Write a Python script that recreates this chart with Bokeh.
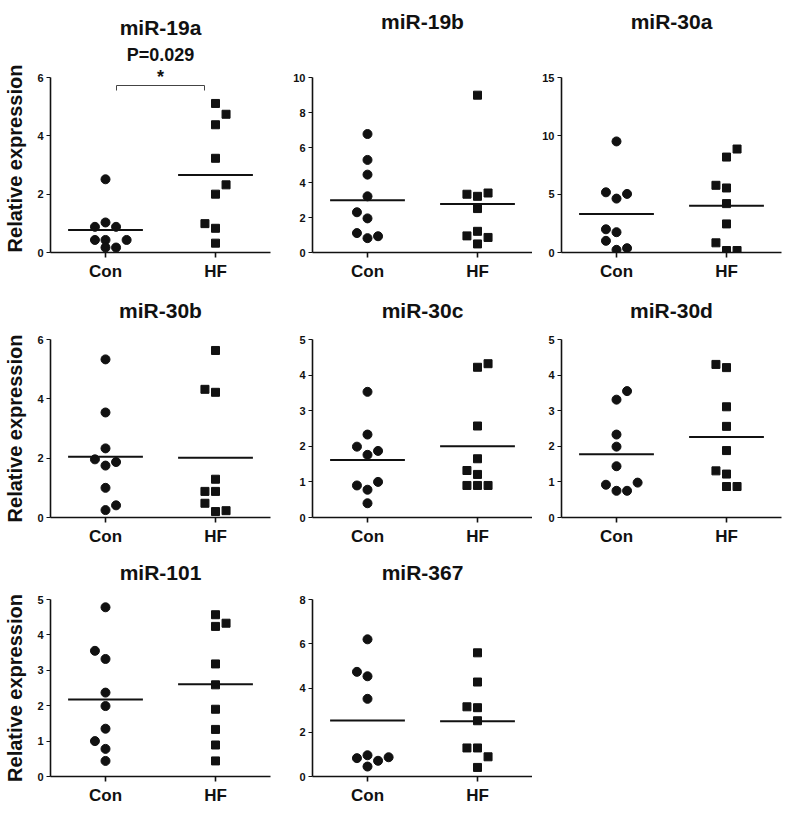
import numpy as np
from bokeh.plotting import figure
from bokeh.layouts import gridplot
from bokeh.models import Range1d, FixedTicker, Title
from bokeh.core.properties import value
from bokeh.embed import file_html
from bokeh.resources import INLINE

# ---------------- data ----------------
groups = ["Con", "HF"]
titles = ["miR-19a", "miR-19b", "miR-30a", "miR-30b", "miR-30c", "miR-30d", "miR-101", "miR-367"]

con_19a = [2.51, 1.03, 0.88, 0.88, 0.43, 0.43, 0.43, 0.17, 0.17]
hf_19a = [5.11, 4.74, 4.38, 3.23, 2.32, 2.00, 0.99, 0.83, 0.32]
con_19b = [6.77, 5.29, 4.45, 3.21, 2.30, 1.95, 1.11, 0.82, 0.93]
hf_19b = [8.99, 3.33, 3.21, 3.40, 2.51, 1.21, 0.95, 0.86, 0.49]
con_30a = [9.52, 5.16, 4.62, 5.02, 1.99, 1.74, 1.00, 0.23, 0.37]
hf_30a = [8.87, 8.18, 5.76, 5.53, 4.19, 2.45, 0.83, 0.17, 0.17]
con_30b = [5.33, 3.54, 2.33, 1.96, 1.75, 1.87, 1.00, 0.25, 0.41]
hf_30b = [5.63, 4.32, 4.22, 1.29, 0.88, 0.88, 0.48, 0.20, 0.23]
con_30c = [3.53, 2.33, 1.99, 1.76, 1.87, 0.90, 1.00, 0.78, 0.40]
hf_30c = [4.32, 4.22, 2.57, 1.65, 1.32, 1.21, 0.90, 0.90, 0.90]
con_30d = [3.55, 3.31, 2.33, 1.99, 1.44, 0.92, 0.75, 0.75, 0.98]
hf_30d = [4.30, 4.21, 3.11, 2.56, 1.88, 1.31, 1.22, 0.87, 0.87]
con_101 = [4.78, 3.55, 3.32, 2.37, 1.99, 1.35, 1.00, 0.78, 0.44]
hf_101 = [4.57, 4.24, 4.33, 3.18, 2.59, 1.90, 1.33, 0.89, 0.44]
con_367 = [6.20, 4.73, 4.53, 3.51, 0.83, 0.96, 0.87, 0.71, 0.45]
hf_367 = [5.59, 4.27, 3.15, 3.11, 2.52, 1.29, 1.29, 0.89, 0.41]

# horizontal spread slot of each dot (scatter-dot-plot layout, in dot widths)
con_19a_slot = [0, 0, -1, 1, -1, 0, 2, 0, 1]
hf_19a_slot = [0, 1, 0, 0, 1, 0, -1, 0, 0]
con_19b_slot = [0, 0, 0, 0, -1, 0, -1, 0, 1]
hf_19b_slot = [0, -1, 0, 1, 0, 0, -1, 1, 0]
con_30a_slot = [0, -1, 0, 1, -1, 0, -1, 0, 1]
hf_30a_slot = [1, 0, -1, 0, 0, 0, -1, 0, 1]
con_30b_slot = [0, 0, 0, -1, 0, 1, 0, 0, 1]
hf_30b_slot = [0, -1, 0, 0, -1, 0, -1, 0, 1]
con_30c_slot = [0, 0, -1, 0, 1, -1, 1, 0, 0]
hf_30c_slot = [1, 0, 0, 0, -1, 0, -1, 0, 1]
con_30d_slot = [1, 0, 0, 0, 0, -1, 0, 1, 2]
hf_30d_slot = [-1, 0, 0, 0, 0, -1, 0, 0, 1]
con_101_slot = [0, -1, 0, 0, 0, 0, -1, 0, 0]
hf_101_slot = [0, 0, 1, 0, 0, 0, 0, 0, 0]
con_367_slot = [0, -1, 0, 0, -1, 0, 2, 1, 0]
hf_367_slot = [0, 0, -1, 0, 0, -1, 0, 1, 0]

yticks_19a = [0, 2, 4, 6]
yticks_19b = [0, 2, 4, 6, 8, 10]
yticks_30a = [0, 5, 10, 15]
yticks_30b = [0, 2, 4, 6]
yticks_30c = [0, 1, 2, 3, 4, 5]
yticks_30d = [0, 1, 2, 3, 4, 5]
yticks_101 = [0, 1, 2, 3, 4, 5]
yticks_367 = [0, 2, 4, 6, 8]

p_value_text = "P=0.029"
sig_text = "*"

panels = [
    (con_19a, hf_19a, con_19a_slot, hf_19a_slot, yticks_19a),
    (con_19b, hf_19b, con_19b_slot, hf_19b_slot, yticks_19b),
    (con_30a, hf_30a, con_30a_slot, hf_30a_slot, yticks_30a),
    (con_30b, hf_30b, con_30b_slot, hf_30b_slot, yticks_30b),
    (con_30c, hf_30c, con_30c_slot, hf_30c_slot, yticks_30c),
    (con_30d, hf_30d, con_30d_slot, hf_30d_slot, yticks_30d),
    (con_101, hf_101, con_101_slot, hf_101_slot, yticks_101),
    (con_367, hf_367, con_367_slot, hf_367_slot, yticks_367),
]

# ---------------- layout / style ----------------
FONT_NAME = "Liberation Sans"
FONT = value(FONT_NAME)
COL_W = [276, 256, 254]
COL_L = [50, 36, 29]
COL_R = [6, 0, 5]
ROW_H = [283, 265, 262]
ROW_T = [64, 56, 51]
ROW_B = [31, 31, 34]
AXIS_PX = [175.0, 178.0, 177.0]    # pixel length of the y axis (0 .. top tick)
# blank spacer under each title: (font size, standoff); title standoff
SPACER = [("18px", 7), ("14px", 0), ("12px", 0)]
TITLE_STANDOFF = [6, 0, 0]
SLOT = 0.096
HALF = 0.34
INK = "#111111"


def title_box(text, size, standoff):
    return Title(text=text, align="center", text_font=FONT_NAME, text_font_style="bold",
                 text_font_size=size, text_color=INK, standoff=standoff)


figs = []
for i, (con, hf, cs, hs, yt) in enumerate(panels):
    r, c = divmod(i, 3)
    frame_h = ROW_H[r] - ROW_T[r] - ROW_B[r]
    ppu = AXIS_PX[r] / yt[-1]
    y_end = frame_h / ppu
    p = figure(width=COL_W[c], height=ROW_H[r], output_backend="svg",
               toolbar_location=None, title=None,
               x_range=Range1d(0.5, 2.5), y_range=Range1d(0, y_end),
               min_border_left=COL_L[c], min_border_right=COL_R[c],
               min_border_top=ROW_T[r], min_border_bottom=ROW_B[r])
    p.outline_line_color = None
    p.grid.visible = False
    p.background_fill_color = "white"
    p.border_fill_color = "white"

    if i == 0:
        p.add_layout(title_box(p_value_text, "18px", 0), "above")
        p.add_layout(title_box(titles[i], "21px", 8), "above")
    else:
        fs, so = SPACER[r]
        p.add_layout(title_box(" ", fs, so), "above")
        p.add_layout(title_box(titles[i], "21px", TITLE_STANDOFF[r]), "above")

    xa = p.xaxis[0]
    xa.ticker = FixedTicker(ticks=[1, 2])
    xa.major_label_overrides = {1: groups[0], 2: groups[1]}
    xa.major_label_text_font = FONT_NAME
    xa.major_label_text_font_style = "bold"
    xa.major_label_text_font_size = "17px"
    xa.major_label_text_color = INK
    xa.major_label_standoff = 4
    xa.major_tick_in = 0
    xa.major_tick_out = 5
    xa.minor_tick_line_color = None
    xa.axis_line_width = 1.6
    xa.axis_line_color = INK
    xa.major_tick_line_width = 1.6
    xa.major_tick_line_color = INK

    ya = p.yaxis[0]
    ya.ticker = FixedTicker(ticks=yt)
    ya.bounds = (0, yt[-1])
    ya.major_label_text_font = FONT_NAME
    ya.major_label_text_font_style = "bold"
    ya.major_label_text_font_size = "11px"
    ya.major_label_text_color = INK
    ya.major_label_standoff = 3
    ya.major_tick_in = 0
    ya.major_tick_out = 4
    ya.minor_tick_line_color = None
    ya.axis_line_width = 1.6
    ya.axis_line_color = INK
    ya.major_tick_line_width = 1.2
    ya.major_tick_line_color = INK
    if c == 0:
        ya.axis_label = "Relative expression"
        ya.axis_label_text_font = FONT_NAME
        ya.axis_label_text_font_style = "bold"
        ya.axis_label_text_font_size = "20px"
        ya.axis_label_text_color = INK
        ya.axis_label_standoff = 8

    cx = [1 + s * SLOT for s in cs]
    hx = [2 + s * SLOT for s in hs]
    p.scatter(cx, con, marker="circle", size=9, fill_color=INK, line_color=INK)
    p.scatter(hx, hf, marker="square", size=8, fill_color=INK, line_color=INK)

    for g, vals in ((1, con), (2, hf)):
        m = float(np.mean(vals))
        p.line([g - HALF, g + HALF], [m, m], line_color=INK, line_width=2)

    if i == 0:
        p.text([1.5], [y_end - 12 / ppu], text=[sig_text],
               text_font=FONT, text_font_style="bold", text_font_size="18px",
               text_align="center", text_baseline="middle", text_color=INK)
        yb = y_end - 21 / ppu
        yt2 = y_end - 26 / ppu
        p.line([1.1, 1.1, 1.9, 1.9], [yt2, yb, yb, yt2], line_color="#444444", line_width=1)

    figs.append(p)

grid = gridplot([figs[0:3], figs[3:6], [figs[6], figs[7], None]], toolbar_location=None)
open("out.html", "w").write(file_html(grid, INLINE))
